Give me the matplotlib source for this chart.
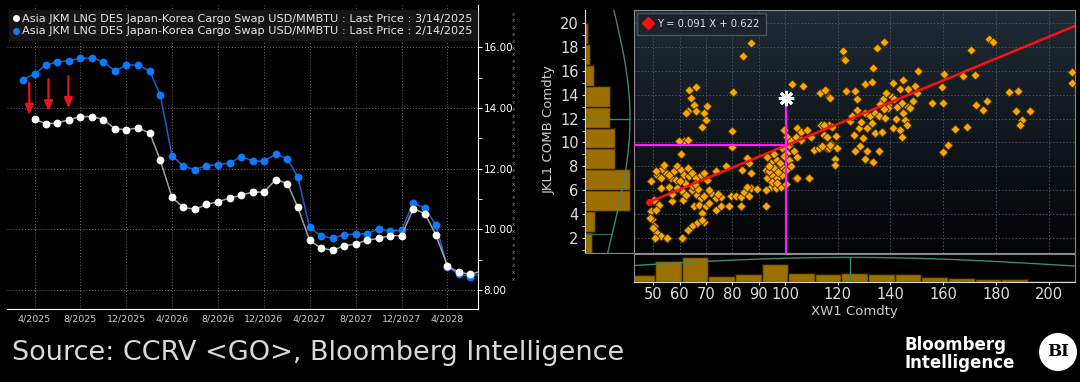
import matplotlib
matplotlib.use("Agg")
import matplotlib.pyplot as plt
import matplotlib.dates as mdates
from matplotlib.lines import Line2D
from matplotlib.patches import Ellipse
import numpy as np
import pandas as pd

# ---- forward curve data (USD/MMBTU) ----
curve_now_label = "Asia JKM LNG DES Japan-Korea Cargo Swap USD/MMBTU : Last Price : 3/14/2025"
curve_prev_label = "Asia JKM LNG DES Japan-Korea Cargo Swap USD/MMBTU : Last Price : 2/14/2025"
months_prev = pd.date_range("2025-03-01", "2028-07-01", freq="MS")
curve_prev = [14.94, 15.12, 15.42, 15.52, 15.56, 15.65, 15.65, 15.53, 15.22, 15.42, 15.42, 15.22, 14.42,
              12.43, 12.08, 11.97, 12.10, 12.13, 12.19, 12.39, 12.26, 12.24, 12.48, 12.33, 11.72,
              10.06, 9.79, 9.70, 9.82, 9.84, 9.86, 10.01, 9.95, 9.96, 10.87, 10.70, 10.15,
              8.75, 8.52, 8.43, 8.55]
months_now = pd.date_range("2025-04-01", "2028-07-01", freq="MS")
curve_now = [13.64, 13.48, 13.51, 13.61, 13.72, 13.72, 13.62, 13.31, 13.29, 13.34, 13.18, 12.27,
             11.05, 10.72, 10.66, 10.82, 10.91, 11.03, 11.12, 11.23, 11.22, 11.64, 11.51, 10.72,
             9.64, 9.38, 9.31, 9.45, 9.52, 9.64, 9.70, 9.79, 9.79, 10.67, 10.52, 9.82,
             8.79, 8.58, 8.52, 8.62]
arrow_dates = pd.to_datetime(["2025-03-18", "2025-05-08", "2025-06-30"])
arrow_from = [14.94, 15.04, 15.14]
arrow_to = [13.68, 13.80, 13.90]
curve_ticks = pd.date_range("2025-04-01", "2028-04-01", freq="4MS")

# ---- scatter data: XW1 Comdty (x) vs JKL1 COMB Comdty (y) ----
xw1 = [63.6, 66.1, 64.2, 65.5, 63.0, 62.3, 66.1, 70.3, 69.3, 69.9, 68.6, 80.3, 79.7, 61.7, 59.8, 63.0,
       79.7, 60.4, 102.5, 107.0, 113.3, 115.5, 116.7, 87.0, 84.2,
       49.0, 51.6, 52.8, 54.7, 56.6, 57.9, 59.2, 60.4, 61.7, 63.0, 63.6, 64.8, 66.1, 68.0, 69.3, 70.5,
       73.7, 77.5, 56.0, 59.2, 61.1, 64.8, 66.7, 68.0, 69.3, 71.8, 73.7, 75.6, 79.4, 81.3, 83.2, 84.5,
       86.4, 87.0, 89.5, 85.7, 83.8, 86.4, 87.0, 85.7, 50.3, 52.2, 49.0, 50.9, 57.2, 61.1, 65.5, 67.4,
       69.9, 73.7, 75.6, 78.8, 83.2, 71.2, 68.6, 69.3, 66.7, 64.8, 63.0, 61.1, 50.3, 51.6, 52.8, 55.4,
       49.7, 92.7, 50.7, 55.1, 60.8, 50.0, 63.3, 68.4, 48.8,
       53.5, 55.8, 58.5, 62.0, 65.0, 67.0, 53.0, 57.0, 60.0, 62.5, 66.0, 71.0, 74.5, 51.0, 54.0,
       93.3, 94.6, 95.9, 97.1, 98.4, 92.7, 93.3, 95.2, 97.1, 99.0, 100.3, 94.6, 96.5, 98.4, 100.3, 92.7,
       99.0, 101.5, 100.9, 99.6, 100.9, 102.2, 104.1, 104.7, 106.0, 103.4, 104.7, 101.5, 102.2, 104.1,
       109.1, 106.0, 108.5, 109.8, 111.0, 113.0, 113.6, 114.8, 116.7, 116.1, 117.4, 108.9, 104.4,
       94.0, 96.0, 98.0, 95.0, 97.5, 99.5, 93.8, 96.8,
       137.7, 134.8, 121.9, 122.2, 122.8, 133.2, 150.6, 130.4, 132.9, 141.1, 144.9, 143.7, 146.5, 149.4,
       123.2, 126.5, 127.2, 115.2, 117.1, 137.3, 138.3, 140.5, 142.4, 144.3, 146.8, 148.7, 150.0, 139.2,
       127.2, 130.4, 132.3, 134.2, 135.8, 138.0, 142.2, 144.9, 145.6, 124.7, 127.9, 131.0, 134.2, 136.7,
       141.1, 143.7, 146.2, 144.3, 129.5, 126.0, 128.5, 126.6, 131.0, 135.5, 130.4, 133.5, 119.0, 119.0,
       116.5, 119.6, 119.4, 117.7, 114.6, 115.8, 113.9, 117.1,
       155.7, 160.1, 159.5, 160.4, 167.5, 172.2, 170.5, 177.2, 178.9, 164.6, 169.0, 162.0, 159.8, 172.5,
       175.0, 176.8, 184.8, 188.4, 187.6, 193.0, 189.9, 189.2, 208.9, 208.9,
       139.0, 141.5, 136.0, 147.5, 125.5, 129.0, 133.0, 137.5]
jkl1 = [14.4, 14.6, 13.7, 13.1, 12.6, 12.45, 12.6, 13.06, 12.45, 11.9, 11.3, 14.25, 11.0, 10.1, 10.1, 10.2,
        9.6, 9.0, 14.9, 14.7, 14.1, 14.4, 13.8, 18.3, 17.2,
        6.75, 7.3, 7.0, 7.45, 7.0, 7.6, 8.0, 7.7, 7.3, 7.9, 7.2, 7.45, 7.0, 7.3, 7.45, 6.9,
        7.6, 8.05, 6.3, 6.2, 5.9, 6.06, 5.64, 5.36, 5.5, 5.8, 5.36, 5.45, 5.5, 5.5, 5.45, 5.9,
        5.5, 6.2, 6.1, 6.3, 7.7, 8.3, 7.45, 8.7, 5.2, 4.8, 4.25, 4.4, 5.1, 5.2, 4.7, 4.8,
        4.7, 4.4, 4.7, 4.7, 4.7, 4.95, 4.1, 3.4, 3.3, 3.0, 2.7, 2.0, 3.0, 2.45, 2.2, 2.0,
        3.6, 4.7, 2.04, 2.04, 2.04, 2.9, 2.7, 3.56, 3.7,
        7.8, 7.3, 6.9, 6.6, 6.4, 6.1, 6.2, 5.7, 6.8, 5.6, 6.5, 6.0, 5.7, 7.6, 8.1,
        8.8, 8.3, 9.0, 8.56, 8.0, 7.7, 7.0, 7.3, 7.0, 7.3, 7.7, 6.3, 6.2, 6.3, 6.5, 6.06,
        9.5, 9.8, 9.1, 11.06, 10.5, 10.1, 10.5, 11.2, 10.9, 9.25, 8.8, 8.56, 8.0, 7.0,
        7.0, 10.2, 11.06, 10.5, 9.4, 9.5, 11.5, 10.6, 11.5, 9.5, 9.9, 7.0, 7.0,
        7.6, 7.9, 8.3, 6.7, 7.5, 8.9, 8.0, 6.6,
        18.4, 17.9, 17.6, 17.0, 16.9, 16.2, 16.0, 14.9, 15.06, 14.95, 15.2, 14.5, 14.5, 14.7,
        14.3, 14.3, 13.6, 14.4, 13.7, 13.6, 14.1, 13.8, 13.0, 13.3, 13.0, 13.5, 14.1, 13.1,
        12.7, 12.45, 12.2, 12.5, 12.2, 12.04, 11.95, 12.45, 11.9, 11.8, 11.2, 11.2, 10.8, 10.9,
        11.2, 11.06, 11.5, 10.5, 10.4, 10.6, 9.7, 9.3, 9.3, 9.3, 8.6, 8.4, 8.6, 8.14,
        9.5, 9.5, 10.56, 11.3, 11.5, 10.5, 9.7, 9.8,
        13.3, 13.3, 14.6, 15.7, 15.56, 15.6, 17.7, 18.65, 18.4, 11.1, 11.3, 9.8, 9.2, 13.1,
        12.7, 13.5, 14.2, 14.3, 12.6, 12.6, 11.9, 11.5, 15.9, 15.0,
        12.9, 13.6, 13.2, 12.9, 12.2, 11.7, 11.6, 12.8]
reg_slope, reg_icpt = 0.091, 0.622
reg_label = "Y = 0.091 X + 0.622"
current_x, current_y = 100.5, 13.7
fit_at_current = 9.8

# histogram bars as drawn on the margins
y_bin_edges = [0.75, 2.5, 4.25, 6.0, 7.75, 9.5, 11.25, 13.0, 14.75, 16.5, 18.25, 20.0]
y_bin_len = [7, 10, 45, 45, 30, 30, 25, 25, 9, 5, 3]
x_bin_edges = [40.6, 50.7, 60.8, 70.9, 81.0, 91.1, 101.2, 111.3, 121.4, 131.5, 141.6, 151.7,
               161.8, 171.9, 182.0, 192.1, 212.3]
x_bin_len = [7.3, 21, 25.7, 6, 8.3, 18.3, 9.3, 8.3, 9, 8.3, 8.3, 4.7, 4, 3, 3, 1]
y_fit_mean, y_fit_sd, y_fit_peak = 12.0, 9.6, 45
x_fit_mean, x_fit_sd, x_fit_peak = 124.7, 91.0, 25

W, H = 1080, 382
fig = plt.figure(figsize=(W / 100, H / 100), dpi=100, facecolor="black")
plt.rcParams["font.family"] = ["DejaVu Sans"]

def box(l, t, r, b):
    return [l / W, 1 - b / H, (r - l) / W, (b - t) / H]

# ================= left: forward curves =================
ax = fig.add_axes(box(7, 5, 478, 309))
ax.set_facecolor("black")
ax.plot(months_prev, curve_prev, color="#1f5fc8", lw=1.1, marker="o", ms=4.6,
        mfc="#0a7cff", mec="#0a7cff", zorder=3)
ax.plot(months_now, curve_now, color="#a0a0a0", lw=1.1, marker="o", ms=4.6,
        mfc="white", mec="white", zorder=4)
for d, y0, y1 in zip(arrow_dates, arrow_from, arrow_to):
    ax.annotate("", xy=(d, y1), xytext=(d, y0),
                arrowprops=dict(arrowstyle="-|>,head_width=0.25,head_length=0.6",
                                color="#e8141c", lw=1.6), zorder=5)
ax.set_xlim(pd.Timestamp("2025-01-18"), pd.Timestamp("2028-06-21"))
ax.set_ylim(7.37, 17.4)
ax.yaxis.tick_right()
ax.set_yticks([8, 10, 12, 14, 16])
ax.set_yticks([9, 11, 13, 15], minor=True)
ax.yaxis.set_major_formatter(plt.FuncFormatter(lambda v, p: f"{v:.2f}"))
ax.tick_params(axis="y", which="both", colors="white", labelsize=7.5, length=3, pad=1)
ax.set_xticks(curve_ticks)
ax.xaxis.set_major_formatter(plt.FuncFormatter(
    lambda v, p: f"{mdates.num2date(v).month}/{mdates.num2date(v).year}"))
ax.tick_params(axis="x", colors="#cccccc", labelsize=6.8, length=0, pad=4)
ax.grid(True, color="#6a6a6a", ls=(0, (1, 2)), lw=0.7)
for s in ["left", "top"]:
    ax.spines[s].set_visible(False)
for s in ["right", "bottom"]:
    ax.spines[s].set_color("white")
handles = [Line2D([], [], ls="none", marker="o", ms=4, color="white"),
           Line2D([], [], ls="none", marker="o", ms=4, color="#0a7cff")]
leg = ax.legend(handles, [curve_now_label, curve_prev_label], loc="upper left",
                bbox_to_anchor=(0.0, 0.99), fontsize=8.1, frameon=True, handlelength=0.5,
                handletextpad=0.3, borderpad=0.35, labelspacing=0.2, borderaxespad=0.2)
leg.get_frame().set_facecolor("#151515")
leg.get_frame().set_edgecolor("#151515")
leg.get_frame().set_alpha(1)
leg.get_frame().set_boxstyle("square", pad=0)
for t in leg.get_texts():
    t.set_color("#e6e6e6")

# Bloomberg side column of hidden-series markers
for k in range(40):
    fig.text(513 / W, 1 - (14 + k * 6.8) / H, "x", color="#8a8a8a", fontsize=4,
             ha="center", va="center")

# ================= right: scatter =================
sc = fig.add_axes(box(634, 10, 1075, 252.7))
grad = np.linspace(1, 0, 256).reshape(-1, 1)
sc.imshow(grad, extent=[0, 1, 0, 1], transform=sc.transAxes, aspect="auto", zorder=0,
          cmap=matplotlib.colors.LinearSegmentedColormap.from_list("bg", ["#030405", "#1f2b36"]))
sc.set_xlim(42.7, 210)
sc.set_ylim(0.8, 21.06)
sc.set_xticks(np.arange(50, 211, 10))
sc.set_yticks(np.arange(2, 21, 2))
sc.grid(True, color="#4a5560", ls=(0, (1.5, 2)), lw=0.7, zorder=1)
sc.tick_params(length=0, labelleft=False, labelbottom=False)
for s in sc.spines.values():
    s.set_color("#8a8a8a")
sc.scatter(xw1, jkl1, marker="D", s=22, c="#f7a800", edgecolors="#3a2500", linewidths=0.6, zorder=3)
xr = np.array([48.5, 215])
sc.plot(xr, reg_slope * xr + reg_icpt, color="#ff1010", lw=1.8, zorder=4)
sc.plot([48.5], [reg_slope * 48.5 + reg_icpt], "o", color="#ff1010", ms=4, zorder=5)
sc.plot([42.7, current_x], [fit_at_current, fit_at_current], color="#ff19ff", lw=1.6, zorder=5)
sc.plot([current_x, current_x], [0.8, current_y], color="#ff19ff", lw=1.6, zorder=5)
sc.plot([current_x], [current_y], marker=(8, 2, 0), ms=11, mec="white", mew=2.2, zorder=6)
lg = sc.legend([Line2D([], [], ls="none", marker="D", ms=6, color="#ff1010")], [reg_label],
               loc="upper left", fontsize=7.2, frameon=True, handletextpad=0.5,
               borderpad=0.6, borderaxespad=0.25, handlelength=1.0)
lg.get_frame().set_facecolor("#1b232b")
lg.get_frame().set_edgecolor("#555555")
lg.get_frame().set_alpha(1)
lg.get_frame().set_boxstyle("square", pad=0)
for t in lg.get_texts():
    t.set_color("#e0e0e0")

# left histogram (y distribution)
hy = fig.add_axes(box(585, 10, 633, 252.7), sharey=sc)
hy.set_facecolor("black")
hy.barh(y_bin_edges[:-1], y_bin_len, height=np.diff(y_bin_edges), align="edge",
        color="#9c7000", edgecolor="#2a1c00", lw=1)
yy = np.linspace(0.8, 21.06, 200)
hy.plot(y_fit_peak * np.exp(-0.5 * ((yy - y_fit_mean) / y_fit_sd) ** 2), yy, color="#3a8a70", lw=1)
hy.plot([0, y_fit_peak], [y_fit_mean, y_fit_mean], color="#3a8a70", lw=1)
ylo = y_fit_mean - y_fit_sd
hy.plot([0, y_fit_peak * np.exp(-0.5)], [ylo, ylo], color="#2f6a55", lw=1)
hy.set_xlim(0, 48)
hy.set_yticks(np.arange(2, 21, 2))
hy.set_yticks(np.arange(1, 21, 1), minor=True)
hy.tick_params(axis="y", which="both", colors="#dddddd", labelsize=10.5, length=2.5, pad=2)
hy.tick_params(axis="x", length=0, labelbottom=False)
for s in ["top", "right"]:
    hy.spines[s].set_visible(False)
hy.spines["left"].set_color("#dddddd")
hy.spines["bottom"].set_color("#8a8a8a")
fig.text(549 / W, 1 - 130 / H, "JKL1 COMB Comdty", rotation=90, color="#cccccc",
         fontsize=9.5, ha="center", va="center")

# bottom histogram (x distribution)
hx = fig.add_axes(box(634, 253.5, 1075, 281.7), sharex=sc)
hx.set_facecolor("black")
hx.bar(x_bin_edges[:-1], x_bin_len, width=np.diff(x_bin_edges), align="edge",
       color="#9c7000", edgecolor="#2a1c00", lw=1)
xx = np.linspace(42.7, 210, 200)
hx.plot(xx, x_fit_peak * np.exp(-0.5 * ((xx - x_fit_mean) / x_fit_sd) ** 2), color="#3a8a70", lw=1)
hx.plot([x_fit_mean, x_fit_mean], [0, x_fit_peak], color="#3a8a70", lw=1)
hx.set_ylim(0, 29)
hx.set_xticks([50, 60, 70, 80, 90, 100, 120, 140, 160, 180, 200])
hx.tick_params(axis="x", colors="#dddddd", labelsize=10.5, length=2.5, pad=1)
hx.tick_params(axis="y", length=0, labelleft=False)
hx.spines["top"].set_color("#8a8a8a")
hx.spines["bottom"].set_color("#dddddd")
hx.spines["left"].set_color("#8a8a8a")
hx.spines["right"].set_color("#8a8a8a")
fig.text(854 / W, 1 - 312 / H, "XW1 Comdty", color="#cccccc", fontsize=9.5, ha="center", va="center")

# ================= footer =================
fig.text(12 / W, 1 - 353 / H, "Source: CCRV <GO>, Bloomberg Intelligence", color="#d8d8d8",
         fontsize=19.5, ha="left", va="center")
fig.text(905 / W, 1 - 354 / H, "Bloomberg\nIntelligence", color="white", fontsize=12,
         fontweight="bold", ha="left", va="center", linespacing=1.05)
fig.patches.append(Ellipse((1058 / W, 1 - 352 / H), 38 / W, 38 / H, transform=fig.transFigure,
                           facecolor="white", edgecolor="none"))
fig.text(1058 / W, 1 - 352 / H, "BI", color="black", fontsize=12, fontweight="bold",
         family="DejaVu Serif", ha="center", va="center")

fig.savefig("out.png", dpi=100, facecolor="black")
